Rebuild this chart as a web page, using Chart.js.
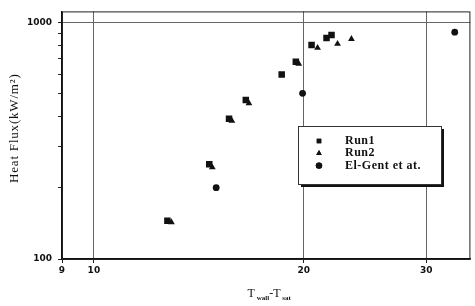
<!DOCTYPE html>
<html>
<head>
<meta charset="utf-8">
<script src="https://cdn.jsdelivr.net/npm/chart.js@4.4.1/dist/chart.umd.min.js"></script>
<style>
  html, body { margin: 0; padding: 0; background: #fff; }
  #wrap { width: 475px; height: 306px; position: relative; }
</style>
</head>
<body>
<div id="wrap"><canvas id="chart"></canvas></div>
<script>
// values (log-log)
const run1X = [12.75, 14.64, 15.63, 16.52, 18.6, 19.49, 20.53, 21.57, 21.93];
const run1Y = [145, 251, 391, 469, 601, 681, 802, 858, 883];
const run2X = [12.92, 14.79, 15.78, 16.69, 19.68, 20.94, 22.37, 23.42];
const run2Y = [143, 244, 383, 455, 668, 779, 810, 850];
const elGentX = [14.98, 19.93, 32.95];
const elGentY = [200, 501, 908];

const xTicks = [9, 10, 20, 30];
const yTicks = [100, 200, 300, 400, 500, 600, 700, 800, 900, 1000];

const seriesNames = ['Run1', 'Run2', 'El-Gent et at.'];
const seriesStyles = ['rect', 'triangle', 'circle'];

const toPoints = (xs, ys) => xs.map((x, i) => ({ x, y: ys[i] }));

// frame, axis titles and boxed legend
const decorPlugin = {
  id: 'decor',
  afterDraw(chart) {
    const { ctx, chartArea: a } = chart;
    ctx.save();
    ctx.strokeStyle = '#222';
    ctx.lineWidth = 1;
    ctx.strokeRect(a.left + 0.5, a.top + 0.5, a.right - a.left - 1, a.bottom - a.top);

    ctx.fillStyle = '#111';
    // x title with subscripts
    const cx = (a.left + a.right) / 2 + 3;
    const parts = [
      ['T', '12px "Liberation Serif"', 0],
      [' wall', 'bold 7px "Liberation Serif"', 3],
      ['-T', '12px "Liberation Serif"', 0],
      [' sat', 'bold 7px "Liberation Serif"', 3]
    ];
    let w = 0;
    parts.forEach(([t, f]) => { ctx.font = f; w += ctx.measureText(t).width; });
    let px = cx - w / 2;
    ctx.textBaseline = 'alphabetic';
    parts.forEach(([t, f, dy]) => {
      ctx.font = f;
      ctx.fillText(t, px, 297 + dy);
      px += ctx.measureText(t).width;
    });

    // y title
    ctx.save();
    ctx.translate(15, (a.top + a.bottom) / 2 - 7);
    ctx.rotate(-Math.PI / 2);
    ctx.font = '13px "Liberation Serif"';
    ctx.letterSpacing = '0.8px';
    ctx.textAlign = 'center';
    ctx.textBaseline = 'middle';
    ctx.fillText('Heat Flux(kW/m²)', 0, 0);
    ctx.restore();

    // legend box with shadow
    const bx = 298, by = 126, bw = 143, bh = 58;
    ctx.fillStyle = '#111';
    ctx.fillRect(bx + 3, by + 3, bw, bh);
    ctx.fillStyle = '#fff';
    ctx.fillRect(bx, by, bw, bh);
    ctx.strokeStyle = '#333';
    ctx.strokeRect(bx + 0.5, by + 0.5, bw, bh);
    ctx.fillStyle = '#111';
    ctx.font = 'bold 12px "Liberation Serif"';
    ctx.letterSpacing = '0.5px';
    ctx.textBaseline = 'middle';
    seriesNames.forEach((name, i) => {
      const ry = 141 + i * 12.3;
      Chart.helpers.drawPoint(ctx, { pointStyle: seriesStyles[i], radius: 3.2, borderWidth: 0 }, 319, ry);
      ctx.fill();
      ctx.fillText(name, 345, ry);
    });
    ctx.restore();
  }
};

const whiteBg = {
  id: 'whiteBg',
  beforeDraw(chart) {
    const { ctx, width, height } = chart;
    ctx.save();
    ctx.fillStyle = '#fff';
    ctx.fillRect(0, 0, width, height);
    ctx.restore();
  }
};

const mkSet = (label, xs, ys, style, r) => ({
  label,
  data: toPoints(xs, ys),
  pointStyle: style,
  pointRadius: r,
  pointHoverRadius: r,
  backgroundColor: '#111',
  borderColor: '#111',
  borderWidth: 0,
  showLine: false
});

new Chart(document.getElementById('chart'), {
  type: 'scatter',
  data: {
    datasets: [
      mkSet('Run1', run1X, run1Y, 'rect', 4.6),
      mkSet('Run2', run2X, run2Y, 'triangle', 3.9),
      mkSet('El-Gent et at.', elGentX, elGentY, 'circle', 3.4)
    ]
  },
  plugins: [whiteBg, decorPlugin],
  options: {
    responsive: true,
    maintainAspectRatio: false,
    animation: false,
    layout: { padding: { left: 0, right: 2, top: 7, bottom: 0 } },
    plugins: {
      legend: { display: false },
      tooltip: { enabled: false }
    },
    scales: {
      x: {
        type: 'logarithmic',
        min: 9,
        max: 34.7,
        afterBuildTicks: (s) => { s.ticks = xTicks.map((v) => ({ value: v })); },
        afterFit: (s) => { s.height = 47; },
        ticks: {
          autoSkip: false,
          maxRotation: 0,
          padding: 2,
          color: '#111',
          font: { family: 'DejaVu Sans', size: 9, weight: 'bold' },
          callback: (v) => String(v)
        },
        grid: {
          color: (c) => (c.tick && c.tick.value === 9 ? 'rgba(0,0,0,0)' : '#666'),
          tickColor: '#222',
          tickLength: 4,
          lineWidth: 1
        },
        border: { display: true, color: '#111', width: 1.5 }
      },
      y: {
        type: 'logarithmic',
        min: 100,
        max: 1111,
        afterBuildTicks: (s) => { s.ticks = yTicks.map((v) => ({ value: v })); },
        afterFit: (s) => { s.width = 62; },
        ticks: {
          autoSkip: false,
          padding: 6,
          color: '#111',
          font: { family: 'DejaVu Sans', size: 9, weight: 'bold' },
          callback: (v) => (v === 100 || v === 1000 ? String(v) : '')
        },
        grid: {
          color: (c) => (c.tick && c.tick.value === 1000 ? '#666' : 'rgba(0,0,0,0)'),
          tickColor: '#222',
          tickLength: 4
        },
        border: { display: true, color: '#111', width: 1.5 }
      }
    }
  }
});
</script>
</body>
</html>
